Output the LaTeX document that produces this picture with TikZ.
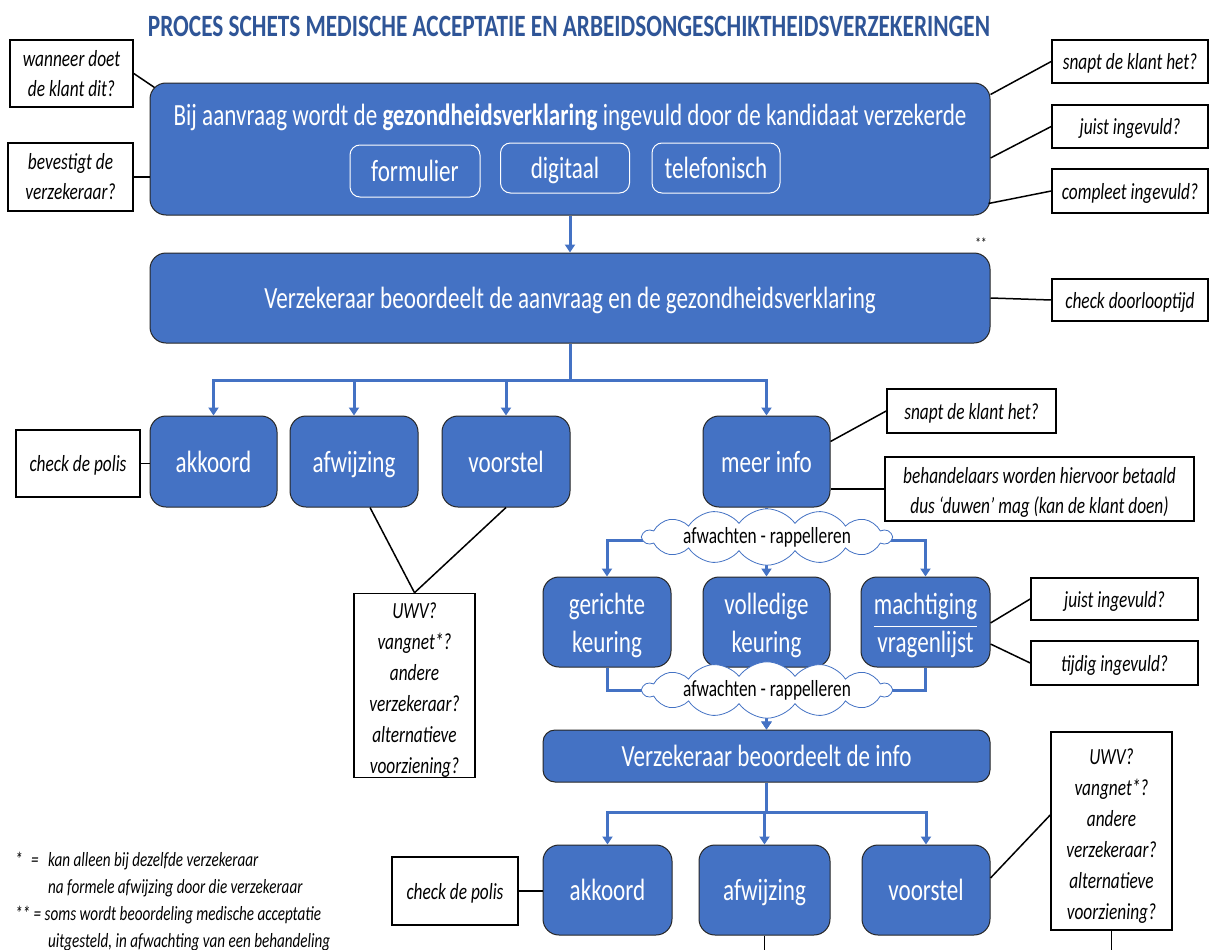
\documentclass[tikz,border=0pt]{standalone}
\usepackage{fontspec}
\setmainfont{Carlito}[FakeStretch=0.75]
\usetikzlibrary{arrows.meta,shapes.symbols,calc}
\definecolor{boxblue}{HTML}{4472C4}
\definecolor{titleblue}{HTML}{2F5597}
\newcommand\fmain{\fontsize{30.8}{38}\selectfont}
\newcommand\fcall{\fontsize{23.1}{30}\selectfont}
\newcommand\fcalltall{\fontsize{23.1}{31}\selectfont}
\newcommand\fnote{\fontsize{20.2}{26}\selectfont}
\newcommand\ftitle{\fontsize{31}{34}\selectfont}
\tikzset{
 bluebox/.style={draw=black!85, line width=1pt, fill=boxblue, rounded corners=16pt, text=white, font=\fmain, align=center, inner sep=0pt},
 onebox/.style={bluebox, text height=21pt, text depth=0pt},
 subbox/.style={draw=white, line width=1pt, fill=boxblue, rounded corners=10pt, text=white, font=\fmain, inner sep=0pt, text height=21pt, text depth=0pt},
 callout/.style={draw=black, line width=1.6pt, fill=white, font=\fcall\itshape, align=center, inner sep=0pt},
 onecall/.style={callout, text height=16pt, text depth=0pt},
 link/.style={draw=black, line width=1.5pt},
 flow/.style={draw=boxblue, line width=3pt, -{Triangle[width=10pt,length=8pt]}},
 cloudnode/.style={cloud, cloud puffs=14, cloud puff arc=110, aspect=9, draw=boxblue, line width=0.8pt, fill=white, font=\fcall, inner sep=0pt, minimum width=237pt, minimum height=28pt},
 note/.style={font=\fnote\itshape, anchor=base west, inner sep=0pt}
}
\begin{document}
\begin{tikzpicture}[x=1pt,y=-1pt]
\fill[white] (0,0) rectangle (1210,950);
\useasboundingbox (0,0) rectangle (1210,950);

\node[font=\ftitle\bfseries, text=titleblue] (title) at (569,26) {PROCES SCHETS MEDISCHE ACCEPTATIE EN ARBEIDSONGESCHIKTHEIDSVERZEKERINGEN};

% top box
\node[bluebox, minimum width=840pt, minimum height=132pt] (T) at (570,149) {};
\node[text=white, font=\fmain, inner sep=0pt, text height=21pt, text depth=0pt] (Ttext) at (570,115) {Bij aanvraag wordt de \textbf{gezondheidsverklaring} ingevuld door de kandidaat verzekerde};
\node[subbox, minimum width=130pt, minimum height=52pt] (form) at (415,171) {formulier};
\node[subbox, minimum width=129pt, minimum height=50pt] (digi) at (565,168) {digitaal};
\node[subbox, minimum width=128pt, minimum height=50pt] (tele) at (716,168) {telefonisch};

% second box
\node[onebox, minimum width=840pt, minimum height=90pt] (V) at (570,298) {Verzekeraar beoordeelt de aanvraag en de gezondheidsverklaring};
\node[font=\fontsize{15}{16}\selectfont, inner sep=0pt] (star2) at (981,243) {**};

% row 2
\node[onebox, minimum width=127pt, minimum height=91pt] (A1) at (213.5,461.5) {akkoord};
\node[onebox, minimum width=128pt, minimum height=91pt] (F1) at (354,461.5) {afwijzing};
\node[onebox, minimum width=128pt, minimum height=91pt] (S1) at (506,461.5) {voorstel};
\node[onebox, minimum width=127pt, minimum height=91pt] (M) at (766.5,461.5) {meer info};

% row 3
\node[bluebox, minimum width=128pt, minimum height=90pt] (G) at (607,622) {\rule{0pt}{29pt}gerichte\\keuring};
\node[bluebox, minimum width=127pt, minimum height=90pt] (VK) at (766.5,622) {\rule{0pt}{29pt}volledige\\keuring};
\node[bluebox, minimum width=129pt, minimum height=90pt] (MV) at (925.5,622) {\rule{0pt}{29pt}machtiging\\vragenlijst};
\draw[white, line width=1pt] ($(MV.center)+(-52,4)$) -- ($(MV.center)+(51,4)$);

\node[onebox, minimum width=447pt, minimum height=52pt, rounded corners=12pt] (VI) at (766.5,756) {Verzekeraar beoordeelt de info};

% row 4
\node[onebox, minimum width=129pt, minimum height=90pt] (A2) at (607.5,890) {akkoord};
\node[onebox, minimum width=131pt, minimum height=90pt] (F2) at (764.5,890) {afwijzing};
\node[onebox, minimum width=128pt, minimum height=90pt] (S2) at (926,890) {voorstel};

% flows
\draw[flow] (T.south) -- (V.north);
\draw[flow] (V.south) -- ++(0,37) -| (A1.north);
\draw[flow] (V.south) -- ++(0,37) -| (F1.north);
\draw[flow] (V.south) -- ++(0,37) -| (S1.north);
\draw[flow] (V.south) -- ++(0,37) -| (M.north);
\draw[flow] (M.south) -- ++(0,33) -| (G.north);
\draw[flow] (M.south) -- (VK.north);
\draw[flow] (M.south) -- ++(0,33) -| (MV.north);
\draw[flow] (G.south) -- ++(0,23) -| (VI.north);
\draw[flow] (VK.south) -- (VI.north);
\draw[flow] (MV.south) -- ++(0,23) -| (VI.north);
\draw[flow] (VI.south) -- ++(0,30) -| (A2.north);
\draw[flow] (VI.south) -- ++(0,30) -| (F2.north);
\draw[flow] (VI.south) -- ++(0,30) -| (S2.north);

\node[cloudnode] (CL1) at (767,537) {afwachten - rappelleren};
\node[cloudnode] (CL2) at (767,690) {afwachten - rappelleren};

% callouts
\node[callout, minimum width=123pt, minimum height=67pt] (C1) at (71.5,73.5) {wanneer doet\\de klant dit?};
\node[callout, minimum width=125pt, minimum height=68pt] (C2) at (70.5,177) {bevestigt de\\verzekeraar?};
\node[onecall, minimum width=156pt, minimum height=43pt] (C3) at (1130,61.5) {snapt de klant het?};
\node[onecall, minimum width=156pt, minimum height=43pt] (C4) at (1130,126.5) {juist ingevuld?};
\node[onecall, minimum width=156pt, minimum height=44pt] (C5) at (1130,191) {compleet ingevuld?};
\node[onecall, minimum width=156pt, minimum height=42pt] (C6) at (1130,300) {check doorlooptijd};
\node[onecall, minimum width=124pt, minimum height=67pt] (C7) at (78,463.5) {check de polis};
\node[callout, font=\fcalltall\itshape, minimum width=121pt, minimum height=183pt] (C8) at (414.5,685.5) {\rule{0pt}{25pt}UWV?\\vangnet*?\\andere\\verzekeraar?\\alternatieve\\voorziening?};
\node[onecall, minimum width=169pt, minimum height=44pt] (C9) at (971.5,411) {snapt de klant het?};
\node[callout, minimum width=309pt, minimum height=64pt] (C10) at (1039.5,489) {\rule{0pt}{22pt}behandelaars worden hiervoor betaald\\dus ‘duwen’ mag (kan de klant doen)};
\node[onecall, minimum width=167pt, minimum height=42pt] (C11) at (1114.5,599) {juist ingevuld?};
\node[onecall, minimum width=167pt, minimum height=44pt] (C12) at (1114.5,663) {tijdig ingevuld?};
\node[callout, font=\fcalltall\itshape, minimum width=121pt, minimum height=198pt] (C13) at (1111.5,831) {\rule{0pt}{25pt}UWV?\\vangnet*?\\andere\\verzekeraar?\\alternatieve\\voorziening?};
\node[onecall, minimum width=126pt, minimum height=68pt] (C14) at (455,891) {check de polis};

\coordinate (bot1) at (1111.5,950);
\coordinate (bot2) at (764.5,950);

% callout links
\draw[link] (C1.east) -- ($(T.north west)+(5,5)$);
\draw[link] (C2.east) -- (T.west |- C2.east);
\draw[link] (C3.west) -- ($(T.north east)+(0,12)$);
\draw[link] (C4.west) -- ($(T.east)+(0,9)$);
\draw[link] (C5.west) -- ($(T.south east)+(-2,-12)$);
\draw[link] (C6.west) -- (V.east);
\draw[link] (C7.east) -- (A1.west |- C7.east);
\draw[link] (C8.north) -- ($(F1.south)+(16,0)$);
\draw[link] (C8.north) -- (S1.south);
\draw[link] (C9.west) -- ($(M.east)+(0,-20)$);
\draw[link] (C10.west) -- (M.east |- C10.west);
\draw[link] (C11.west) -- ($(MV.east)+(0,1)$);
\draw[link] (C12.west) -- ($(MV.east)+(0,22)$);
\draw[link] ($(C13.west)+(0,-16)$) -- ($(S2.east)+(0,-12)$);
\draw[link] (C13.south) -- (bot1);
\draw[link] (F2.south) -- (bot2);
\draw[link] (C14.east) -- (A2.west |- C14.east);

% footnotes
\node[note] (n1a) at (15,866) {*};
\node[note] (n1b) at (31,866) {=};
\node[note] (n1c) at (48,866) {kan alleen bij dezelfde verzekeraar};
\node[note] (n2) at (48,893) {na formele afwijzing door die verzekeraar};
\node[note] (n3) at (15,920) {** = soms wordt beoordeling medische acceptatie};
\node[note] (n4) at (48,947) {uitgesteld, in afwachting van een behandeling};
\end{tikzpicture}
\end{document}
